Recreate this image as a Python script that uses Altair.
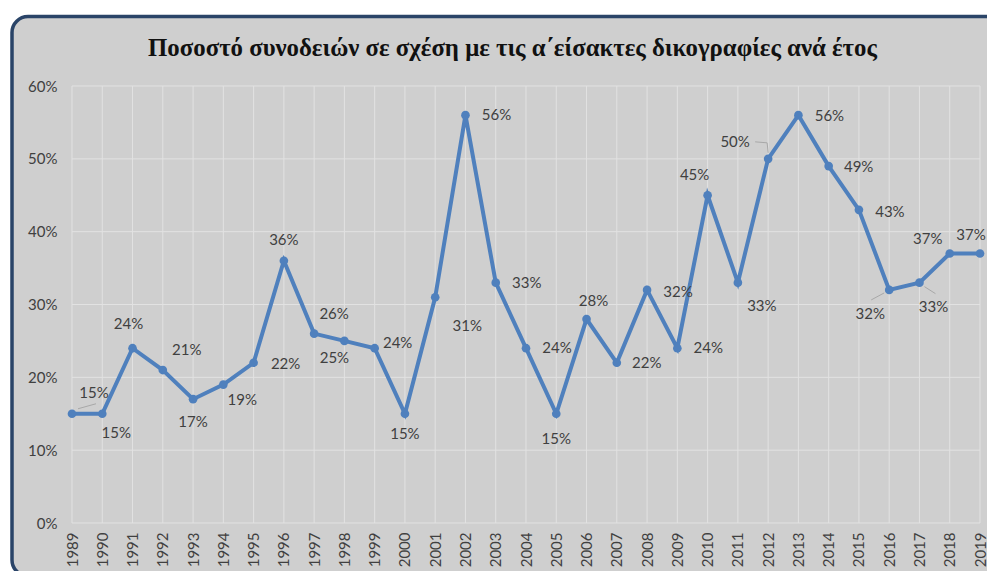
import altair as alt
import pandas as pd

# ---- data ----
years = list(range(1989, 2020))
values = [15, 15, 24, 21, 17, 19, 22, 36, 26, 25, 24, 15, 31, 56, 33, 24,
          15, 28, 22, 32, 24, 45, 33, 50, 56, 49, 43, 32, 33, 37, 37]
y_ticks = [0, 0.1, 0.2, 0.3, 0.4, 0.5, 0.6]
title_text = "Ποσοστό συνοδειών σε σχέση με τις α΄είσακτες δικογραφίες ανά έτος"

# label placement offsets (pixels, right / down)
label_dx = [22, 14, -4, 24, 0, 19, 32, 0, 20, -10, 23, 0, 32, 31, 31, 31,
            0, 7, 30, 31, 31, -13, 24, -33, 31, 30, 31, -19, 14, -22, -9]
label_dy = [-21, 19, -24, -20, 23, 15, 1, -21, -20, 17, -5, 20, 29, 0, 0, 0,
            25, -18, 0, 2, 0, -20, 23, -17, 1, 1, 2, 24, 24, -15, -19]

# label leader lines: anchored at a year's point, offsets in pixels
leader_year = [1989, 2012, 2012, 2016, 2017]
leader_x1 = [6, -13, -1, -18, 5]
leader_y1 = [-5, -17, -16, 10, 4]
leader_x2 = [24, -1, 0, -5, 16]
leader_y2 = [-10, -16, -6, 3, 11]

W, H = 908, 437
PX_PER_YEAR = W / (years[-1] - years[0])
PX_PER_UNIT = H / 0.6

df = pd.DataFrame({
    "year": years,
    "share": [v / 100 for v in values],
    "dx": label_dx,
    "dy": label_dy,
})
share_of = dict(zip(years, df["share"]))
leaders = pd.DataFrame({
    "year": leader_year,
    "share": [share_of[y] for y in leader_year],
    "x1": leader_x1, "y1": leader_y1, "x2": leader_x2, "y2": leader_y2,
})

TEXT = "#404040"
LINE = "#4f80bd"
FONT = "Lato"
FS = 15

xscale = alt.Scale(domain=[years[0], years[-1]], nice=False, zero=False)
yscale = alt.Scale(domain=[0, 0.6], nice=False)

xaxis = alt.Axis(values=years, format="d", labelAngle=-90, grid=False,
                 ticks=False, domain=False, labelPadding=9,
                 labelFont=FONT, labelFontSize=FS, labelColor=TEXT,
                 title=None, zindex=1, labelOverlap=False)
yaxis = alt.Axis(values=y_ticks, format=".0%", grid=False, ticks=False,
                 domain=False, labelPadding=15, labelFont=FONT,
                 labelFontSize=FS, labelColor=TEXT, title=None, zindex=1)

one = alt.Data(values=[{"t": title_text}])

bg = alt.Chart(one).mark_rect(
    fill="#cfcfcf", stroke="#2a4468", strokeWidth=3.5, cornerRadius=16
).encode(
    x=alt.value(-60), x2=alt.value(1100), y=alt.value(-69.5), y2=alt.value(490)
)

vgrid = alt.Chart(df).mark_rule(color="#e2e2e2", strokeWidth=1).encode(
    x=alt.X("year:Q", scale=xscale, axis=xaxis)
)

hgrid = alt.Chart(pd.DataFrame({"t": y_ticks})).mark_rule(
    color="#e2e2e2", strokeWidth=1
).encode(
    y=alt.Y("t:Q", scale=yscale, axis=yaxis)
)

leader = alt.Chart(leaders).transform_calculate(
    ax=f"datum.year + datum.x1 / {PX_PER_YEAR}",
    ay=f"datum.share - datum.y1 / {PX_PER_UNIT}",
    bx=f"datum.year + datum.x2 / {PX_PER_YEAR}",
    by=f"datum.share - datum.y2 / {PX_PER_UNIT}",
).mark_rule(color="#a8a8a8", strokeWidth=1).encode(
    x=alt.X("ax:Q", scale=xscale, axis=xaxis),
    y=alt.Y("ay:Q", scale=yscale, axis=yaxis),
    x2="bx:Q",
    y2="by:Q",
)

line = alt.Chart(df).mark_line(
    color=LINE, strokeWidth=4,
    point=alt.OverlayMarkDef(color=LINE, size=75, filled=True, opacity=1)
).encode(
    x=alt.X("year:Q", scale=xscale, axis=xaxis),
    y=alt.Y("share:Q", scale=yscale, axis=yaxis),
)

labels = alt.Chart(df).transform_calculate(
    lx=f"datum.year + datum.dx / {PX_PER_YEAR}",
    ly=f"datum.share - datum.dy / {PX_PER_UNIT}",
).mark_text(
    font=FONT, fontSize=FS, color=TEXT, align="center", baseline="middle", clip=False
).encode(
    x=alt.X("lx:Q", scale=xscale, axis=xaxis),
    y=alt.Y("ly:Q", scale=yscale, axis=yaxis),
    text=alt.Text("share:Q", format=".0%"),
)

title = alt.Chart(one).mark_text(
    font="Liberation Serif", fontSize=24.8, fontWeight="bold", color="#111111",
    align="center", baseline="alphabetic"
).encode(
    x=alt.value(512.5 - 72), y=alt.value(56 - 86), text="t:N"
)

chart = alt.layer(bg, vgrid, hgrid, leader, line, labels, title).properties(
    width=W, height=H,
    padding={"left": 64, "top": 78, "right": 979 - 64 - W, "bottom": 48},
    autosize=alt.AutoSizeParams(type="none"),
    background="white",
).configure_view(stroke=None)

chart.save("out.html", embed_options={"renderer": "svg", "actions": False})
